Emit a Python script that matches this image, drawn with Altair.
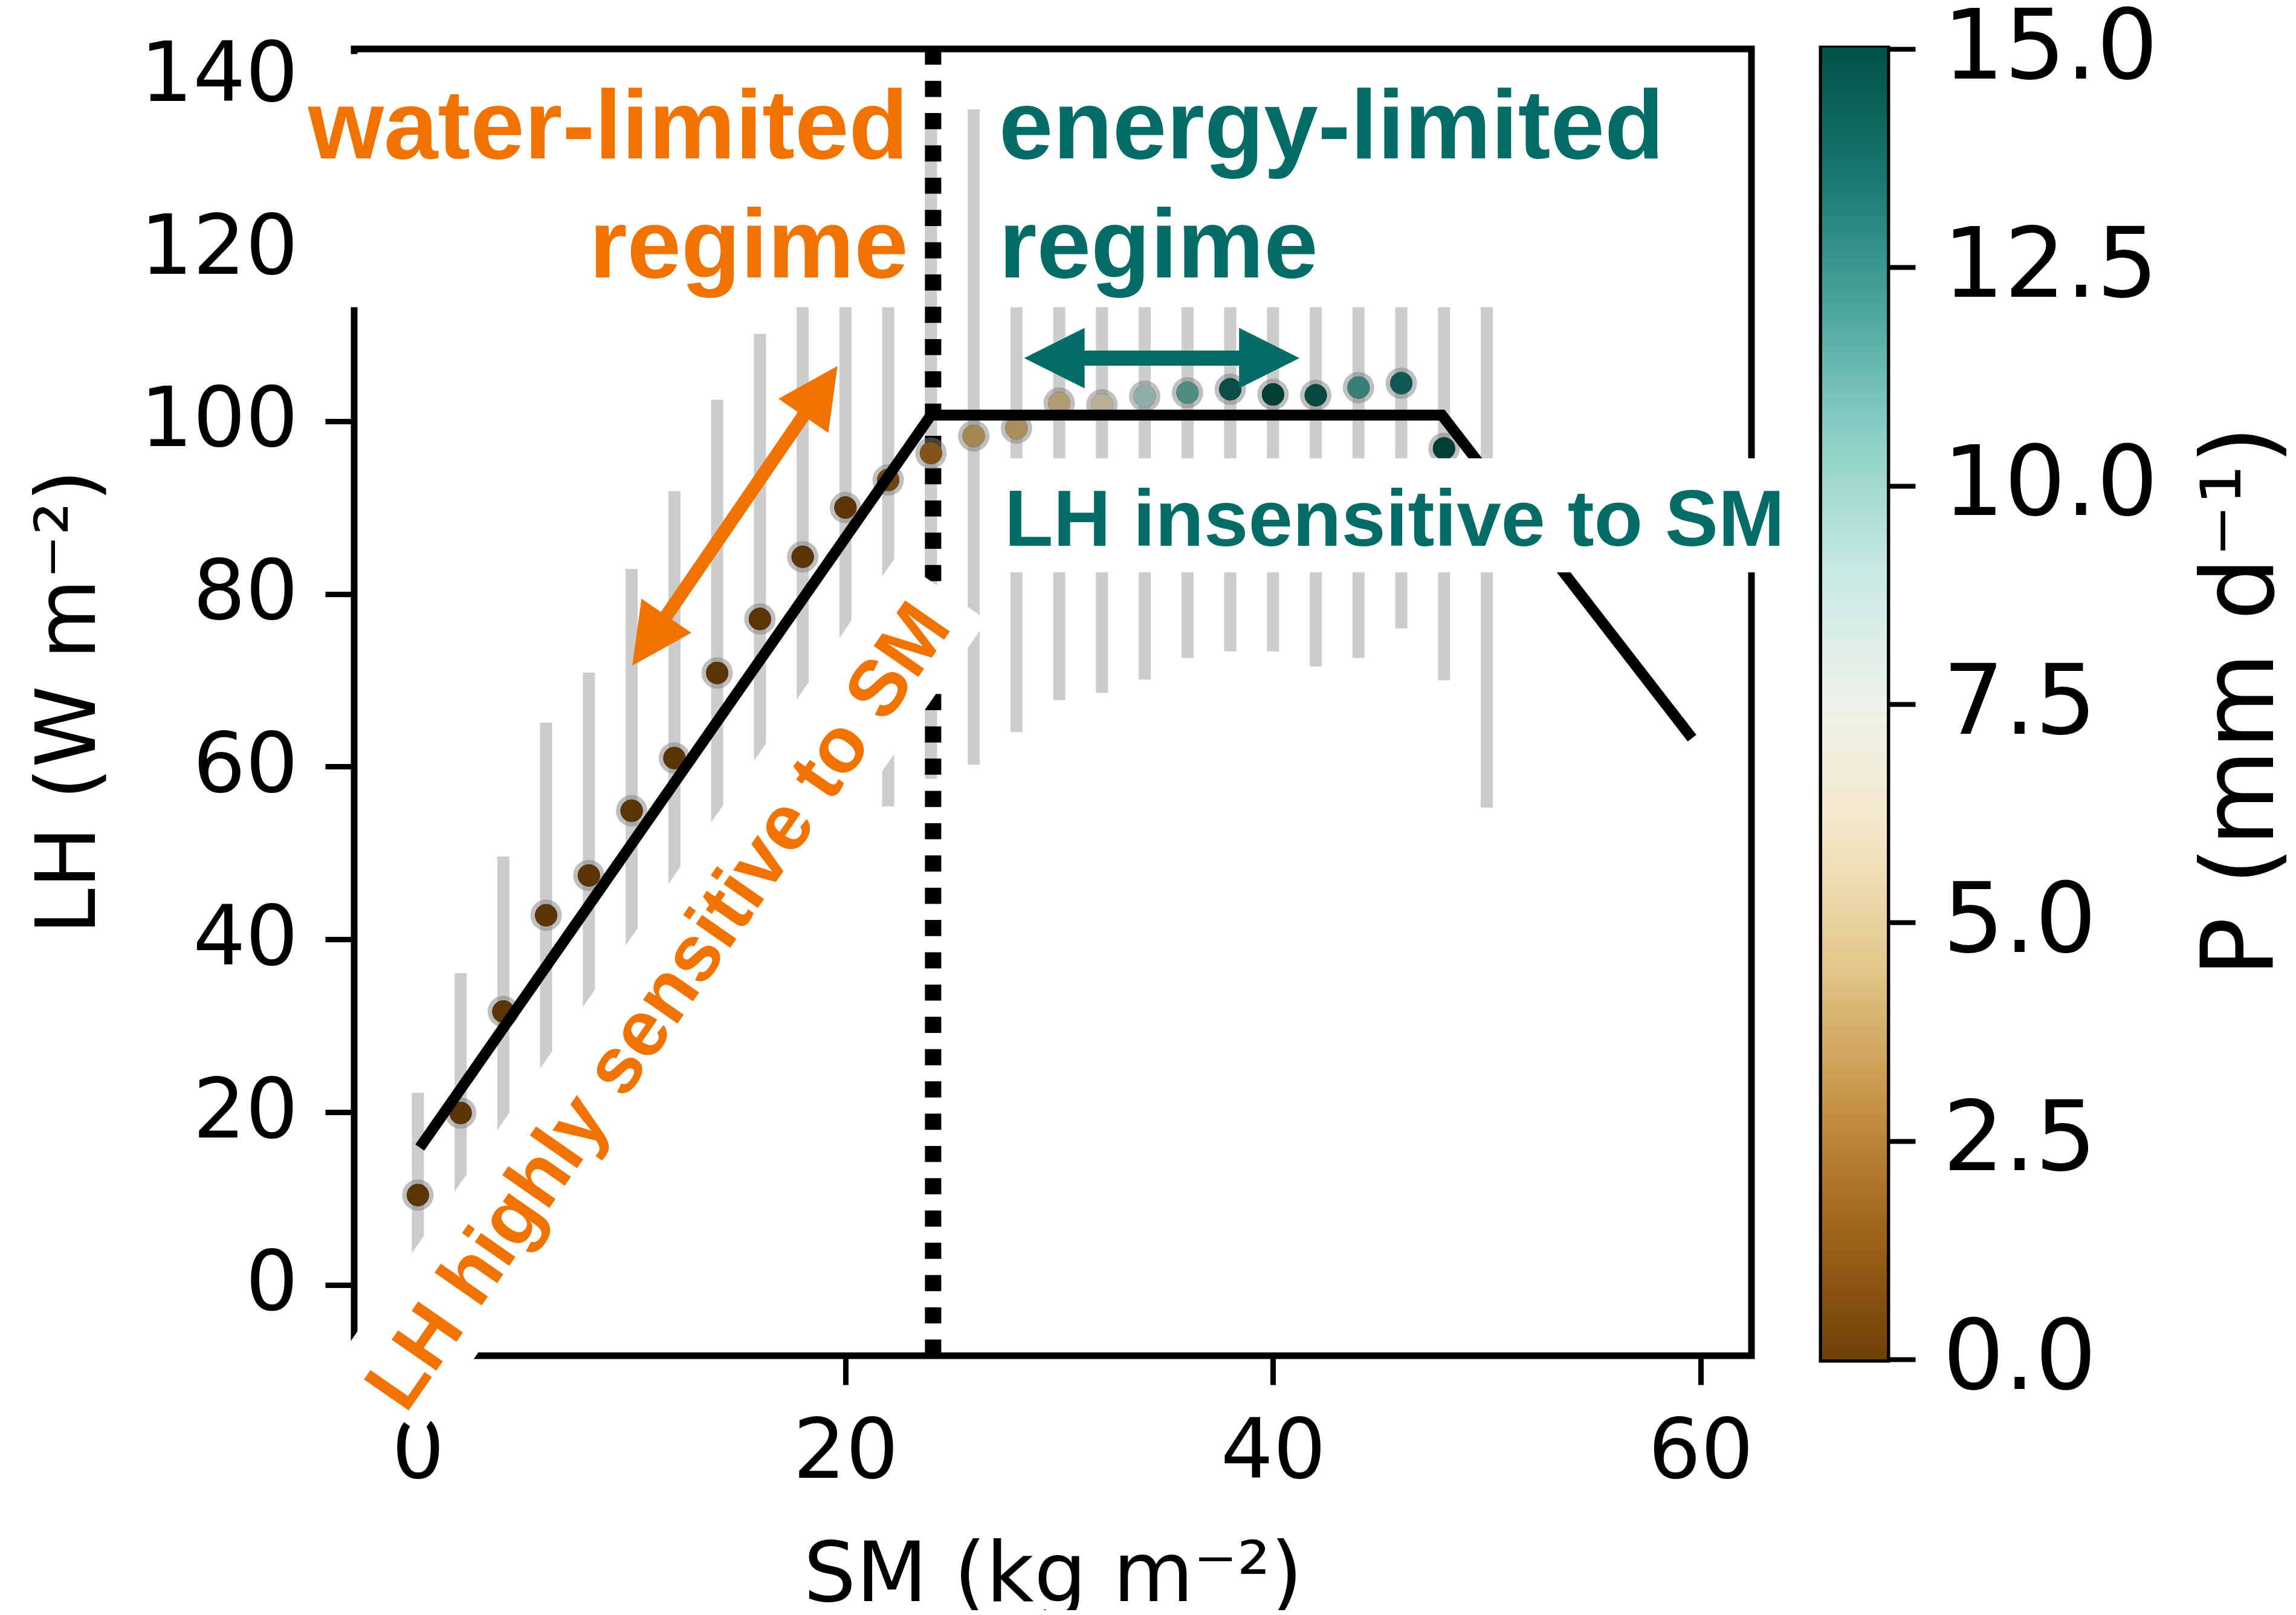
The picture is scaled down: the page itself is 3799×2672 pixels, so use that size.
import math
import altair as alt
import pandas as pd

# ---------------- data ----------------
SM = [0, 2, 4, 6, 8, 10, 12, 14, 16, 18, 20, 22, 24, 26, 28, 30, 32, 34, 36, 38, 40, 42, 44, 46, 48, 50]
LH_MEAN = [10.4, 19.9, 31.65, 42.8, 47.4, 54.9, 61.0, 70.85, 77.1, 84.3, 90.0, 93.2, 96.3,
           98.3, 99.2, 102.1, 101.9, 102.9, 103.3, 103.7, 103.1, 103.0, 103.9, 104.4, 96.85, 89.0]
LH_LOW = [-1.45, 3.7, 13.7, 20.5, 23.9, 26.9, 30.1, 39.2, 44.1, 53.6, 58.0, 55.4, 58.6,
          60.25, 64.0, 67.7, 68.55, 70.1, 72.6, 73.35, 73.35, 71.6, 72.6, 76.0, 70.0, 55.25]
LH_HIGH = [22.25, 36.1, 49.6, 65.1, 70.9, 82.9, 91.9, 102.5, 110.1, 115.0, 122.0, 131.0, 134.0,
           136.1, 134.4, 136.5, 135.3, 135.7, 134.0, 134.0, 132.9, 134.4, 135.2, 132.8, 123.7, 122.8]
P_MEAN = [0.2, 0.2, 0.2, 0.2, 0.2, 0.2, 0.2, 0.2, 0.2, 0.2, 0.2, 1.0, 1.8,
          3.8, 4.1, 4.8, 6.0, 9.3, 11.4, 14.2, 15.0, 14.5, 12.1, 13.7, 15.0, 15.0]

FIT_SM = [0.09, 24.0, 47.9, 59.6]
FIT_LH = [15.9, 100.7, 100.7, 63.3]
REGIME_SM = [24.1]

X_TICKS = [0, 20, 40, 60]
Y_TICKS = [0, 20, 40, 60, 80, 100, 120, 140]
P_TICKS = [0.0, 2.5, 5.0, 7.5, 10.0, 12.5, 15.0]

ORANGE = "#F07300"
TEAL = "#036C66"

# ---------------- layout ----------------
W, H = 2312, 2162
XDOM = [-2.98, 62.38]
YDOM = [-8.2, 143.1]
CB_W, CB_H = 107, 2168
PXX = W / (XDOM[1] - XDOM[0])
PXY = H / (YDOM[1] - YDOM[0])

xscale = alt.Scale(domain=XDOM, nice=False, zero=False)
yscale = alt.Scale(domain=YDOM, nice=False, zero=False)
cscale = alt.Scale(scheme="brownbluegreen", domain=[0, 15])

xaxis = alt.Axis(values=X_TICKS, domain=False, grid=False, tickSize=48, tickWidth=9,
                 tickColor="black", labelFontSize=137, labelFont="DejaVu Sans",
                 labelColor="black", labelPadding=45, labelFlush=False, labelOverlap=False,
                 labelLimit=0,
                 title="SM (kg m⁻²)", titleFontSize=137, titleFont="DejaVu Sans",
                 titleFontWeight="normal", titleColor="black", titleX=1156, titleY=405,
                 titleBaseline="alphabetic", titleAlign="center", titleLimit=0)
yaxis = alt.Axis(values=Y_TICKS, domain=False, grid=False, tickSize=48, tickWidth=9,
                 tickColor="black", labelFontSize=137, labelFont="DejaVu Sans",
                 labelColor="black", labelPadding=45, labelFlush=False, labelOverlap=False,
                 labelLimit=0,
                 title="LH (W m⁻²)", titleFontSize=137, titleFont="DejaVu Sans",
                 titleFontWeight="normal", titleColor="black", titleAngle=270,
                 titleX=-430, titleY=1080, titleBaseline="alphabetic", titleAlign="center",
                 titleLimit=0)


def X(f):
    return alt.X(f, type="quantitative", scale=xscale, axis=xaxis)


def Y(f):
    return alt.Y(f, type="quantitative", scale=yscale, axis=yaxis)


pts = pd.DataFrame({"sm": SM, "lh": LH_MEAN, "lo": LH_LOW, "hi": LH_HIGH, "P": P_MEAN})
fit = pd.DataFrame({"sm": FIT_SM, "lh": FIT_LH, "i": list(range(len(FIT_SM)))})
reg = pd.DataFrame({"sm": REGIME_SM})

bars = alt.Chart(pts).mark_rule(color="#cccccc", strokeWidth=20).encode(
    x=X("sm"), y=Y("lo"), y2=alt.Y2("hi"))

regime = alt.Chart(reg).mark_rule(color="black", strokeWidth=27, strokeDash=[26.7, 26.7]).encode(
    x=X("sm"), y=alt.value(H), y2=alt.value(0))

halo = alt.Chart(pts).mark_point(shape="circle", filled=True, size=2704, color="#7f7f7f",
                                 opacity=0.5, strokeWidth=0).encode(x=X("sm"), y=Y("lh"))
core = alt.Chart(pts).mark_point(shape="circle", filled=True, size=1369, color="black",
                                 opacity=1, strokeWidth=0).encode(x=X("sm"), y=Y("lh"))
colored = alt.Chart(pts).mark_point(shape="circle", filled=True, size=1369, opacity=0.76,
                                    strokeWidth=0).encode(
    x=X("sm"), y=Y("lh"), color=alt.Color("P:Q", scale=cscale, legend=None))

fitline = alt.Chart(fit).mark_line(color="black", strokeWidth=18, strokeJoin="miter",
                                   strokeCap="butt").encode(
    x=X("sm"), y=Y("lh"), order="i:Q")


def arrow_layers(x0, y0, x1, y1, color, shaft_w):
    dxp = (x1 - x0) * PXX
    dyp = -(y1 - y0) * PXY
    L = math.hypot(dxp, dyp)
    t = 96.0 / L
    shaft = pd.DataFrame({"xa": [x0 + (x1 - x0) * t], "ya": [y0 + (y1 - y0) * t],
                          "xb": [x1 - (x1 - x0) * t], "yb": [y1 - (y1 - y0) * t]})
    a1 = math.degrees(math.atan2(dxp, -dyp)) % 360
    a0 = (a1 + 180) % 360
    heads = pd.DataFrame({"x": [x0, x1], "y": [y0, y1], "ang": [a0, a1]})
    s = alt.Chart(shaft).mark_rule(color=color, strokeWidth=shaft_w, strokeCap="butt").encode(
        x=X("xa"), y=Y("ya"), x2=alt.X2("xb"), y2=alt.Y2("yb"))
    h = alt.Chart(heads).mark_point(shape="M0,0L1,2L-1,2Z", filled=True, size=10000,
                                    color=color, opacity=1, strokeWidth=0).encode(
        x=X("x"), y=Y("y"), angle=alt.Angle("ang:Q", scale=None))
    return [s, h]


orange_arrow = arrow_layers(10.03, 71.7, 19.63, 106.4, ORANGE, 22)
teal_arrow = arrow_layers(28.36, 107.3, 41.24, 107.3, TEAL, 25)

# text background boxes (annotation layout)
boxes = pd.DataFrame({"x1": [-5.6, 26.85, 27.1], "x2": [23.2, 58.6, 64.6],
                      "y1": [113.2, 113.2, 82.5], "y2": [142.5, 142.5, 95.7]})
box_layer = alt.Chart(boxes).mark_rect(color="white", opacity=1).encode(
    x=X("x1"), x2=alt.X2("x2"), y=Y("y1"), y2=alt.Y2("y2"))

TILT = 304.8
rot_box = alt.Chart(pd.DataFrame({"x": [11.26], "y": [33.5]})).mark_point(
    shape="M-1,-0.1122L1,-0.1122L1,0.1122L-1,0.1122Z", filled=True, size=1640 ** 2,
    angle=TILT, color="white", opacity=1, strokeWidth=0).encode(x=X("x"), y=Y("y"))

FONT = "Liberation Sans"
water = pd.DataFrame({"x": [22.94, 22.94], "y": [130.42, 116.63], "t": ["water-limited", "regime"]})
energy = pd.DataFrame({"x": [27.18, 27.18], "y": [130.42, 116.63], "t": ["energy-limited", "regime"]})
insens = pd.DataFrame({"x": [27.44], "y": [85.6], "t": ["LH insensitive to SM"]})
sens = pd.DataFrame({"x": [12.23], "y": [30.56], "t": ["LH highly sensitive to SM"]})

t_water = alt.Chart(water).mark_text(font=FONT, fontWeight="bold", fontSize=161, color=ORANGE,
                                     align="right", baseline="alphabetic", limit=0).encode(
    x=X("x"), y=Y("y"), text="t:N")
t_energy = alt.Chart(energy).mark_text(font=FONT, fontWeight="bold", fontSize=161, color=TEAL,
                                       align="left", baseline="alphabetic", limit=0).encode(
    x=X("x"), y=Y("y"), text="t:N")
t_insens = alt.Chart(insens).mark_text(font=FONT, fontWeight="bold", fontSize=132, color=TEAL,
                                       align="left", baseline="alphabetic", limit=0).encode(
    x=X("x"), y=Y("y"), text="t:N")
t_sens = alt.Chart(sens).mark_text(font=FONT, fontWeight="bold", fontSize=131, color=ORANGE,
                                   align="center", baseline="alphabetic", angle=TILT,
                                   limit=0).encode(
    x=X("x"), y=Y("y"), text="t:N")

main = alt.layer(bars, regime, halo, core, colored, fitline, *orange_arrow, *teal_arrow,
                 box_layer, rot_box, t_water, t_energy, t_insens, t_sens).properties(
    width=W, height=H)

# ---------------- colorbar ----------------
N_STEPS = 300
cb = pd.DataFrame({"P": [15.0 * i / N_STEPS for i in range(N_STEPS)]})
cb["P2"] = cb["P"] + 15.0 * 1.3 / N_STEPS
cb["Pc"] = cb["P"] + 15.0 * 0.5 / N_STEPS

cbar = alt.Chart(cb).mark_rect(strokeWidth=0).encode(
    x=alt.value(0), x2=alt.value(CB_W),
    y=alt.Y("P:Q", scale=alt.Scale(domain=[0, 15], nice=False, zero=False),
            axis=alt.Axis(orient="right", values=P_TICKS, format=".1f", domain=False, grid=False,
                          tickSize=47, tickWidth=8, tickColor="black", labelFontSize=160,
                          labelFont="DejaVu Sans", labelColor="black", labelPadding=45,
                          labelFlush=False, labelOverlap=False, labelLimit=0,
                          title="P (mm d⁻¹)", titleFontSize=165, titleFont="DejaVu Sans",
                          titleFontWeight="normal", titleColor="black", titleAngle=270,
                          titleX=638, titleY=1079, titleBaseline="alphabetic",
                          titleAlign="center", titleLimit=0)),
    y2=alt.Y2("P2"),
    color=alt.Color("Pc:Q", scale=cscale, legend=None),
).properties(width=CB_W, height=CB_H)

chart = alt.hconcat(main, cbar, spacing=117).properties(
    bounds="flush",
    autosize=alt.AutoSizeParams(type="none"),
    padding={"left": 578, "top": 73, "right": 3205, "bottom": 2583},
    background="white",
).configure_view(stroke="black", strokeWidth=11)

chart.save("out.html", embed_options={"renderer": "svg", "actions": False})
